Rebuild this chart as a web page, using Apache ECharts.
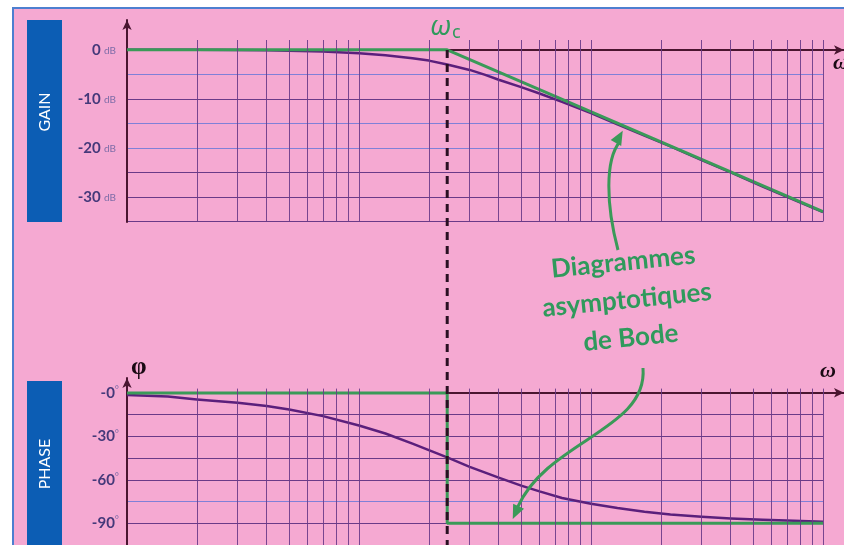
<!DOCTYPE html>
<html>
<head>
<meta charset="utf-8">
<script src="https://cdn.jsdelivr.net/npm/echarts@6/dist/echarts.min.js"></script>
<style>
  html, body { margin: 0; padding: 0; background: #ffffff; }
  #sheet { position: absolute; left: 12px; top: 7px; width: 832px; height: 538px;
           background: #f5a9d2; border-left: 2px solid #4d7fd0; border-top: 2px solid #4d7fd0; box-sizing: border-box; }
  #chart { position: absolute; left: 0; top: 0; width: 844px; height: 545px; }
</style>
</head>
<body>
<div id="sheet"></div>
<div id="chart"></div>
<script>
// Pulsation axis (log, 3 decades) and grid positions
const omegaRange = [1, 1000];
const omegaGrid = [2, 3, 4, 5, 6, 7, 8, 9, 10, 20, 30, 40, 50, 60, 70, 80, 90, 100,
                   200, 300, 400, 500, 600, 700, 800, 900, 1000];
const omegaC = 24;

// Sample pulsations for the real responses
const omega = [1, 1.5, 2, 3, 4, 5, 7, 10, 13, 17, 20, 24, 30, 35, 40, 50, 60, 75,
               100, 130, 170, 220, 300, 400, 550, 750, 1000];

// Gain (dB)
const gainTicks = [0, -10, -20, -30];
const gainReal  = [0, 0, 0, -0.05, -0.1, -0.2, -0.35, -0.7, -1.1, -1.7, -2.2, -3.0, -4.1, -5.1, -6.1,
                   -7.6, -8.9, -10.6, -12.9, -15.2, -17.5, -19.7, -22.5, -25.0, -27.9, -30.6, -33.1];
const gainAsymOmega = [1, 24, 1000];
const gainAsym      = [0, 0, -33];

// Phase (degrees)
const phaseTicks = [0, -30, -60, -90];
const phaseReal  = [-1.4, -2.5, -4.5, -6.8, -9, -11.5, -16, -22.5, -28, -35, -39.5, -44.5, -51, -55, -58.5,
                    -64, -68, -72.5, -76.5, -79.5, -82, -84, -85.5, -86.7, -87.6, -88.3, -89];
const phaseAsymOmega = [1, 24, 24, 1000];
const phaseAsym      = [0, 0, -90, -90];

const GREEN = '#3a9a58';
const TEXT_GREEN = '#2f9a5c';
const PURPLE = '#5b1f7c';
const AXIS = '#4a1530';
const GRID_DARK = '#6a3a88';
const GRID_BLUE = '#7f80d8';

const zip = (xs, ys) => xs.map((x, i) => [x, ys[i]]);

const chart = echarts.init(document.getElementById('chart'), null, { renderer: 'canvas' });

function logAxis(gridIndex) {
  return { type: 'log', logBase: 10, gridIndex, min: omegaRange[0], max: omegaRange[1],
           axisLine: { show: false }, axisTick: { show: false }, axisLabel: { show: false },
           splitLine: { show: false } };
}
function arrowAxisX(gridIndex) {
  return { type: 'value', gridIndex, min: 0, max: 1,
           axisLine: { show: true, onZero: true, symbol: ['none', 'arrow'], symbolSize: [7, 10],
                       lineStyle: { color: AXIS, width: 2 } },
           axisTick: { show: false }, axisLabel: { show: false }, splitLine: { show: false } };
}
function arrowAxisY(gridIndex, min, max) {
  return { type: 'value', gridIndex, min, max,
           axisLine: { show: true, onZero: false, symbol: ['none', 'arrow'], symbolSize: [7, 10],
                       lineStyle: { color: AXIS, width: 2 } },
           axisTick: { show: false }, axisLabel: { show: false }, splitLine: { show: false } };
}
function vGridLines(xAxisIndex, yAxisIndex) {
  return { type: 'line', xAxisIndex, yAxisIndex, data: [], z: 1, silent: true,
           markLine: { silent: true, symbol: 'none', label: { show: false },
                       lineStyle: { color: GRID_DARK, width: 1, type: 'solid', opacity: 0.9 },
                       emphasis: { disabled: true },
                       data: omegaGrid.map(v => ({ xAxis: v })) } };
}

const labelRich = {
  n: { fontFamily: 'Lato', fontSize: 15, fontWeight: 'bold', color: '#45397a' },
  u: { fontFamily: 'Lato', fontSize: 10, color: '#7d6ca8', padding: [2, 0, 0, 0] },
  d: { fontFamily: 'Lato', fontSize: 10, color: '#7d6ca8', padding: [0, 0, 6, 0] }
};

const option = {
  backgroundColor: 'transparent',
  animation: false,
  grid: [
    { left: 127, right: 21, top: 40, bottom: 323.5 },   // 0: gain plot
    { left: 127, right: 0, top: 20, bottom: 323 },       // 1: gain axes with arrows
    { left: 127, right: 21, top: 388.6, bottom: -2 },   // 2: phase plot
    { left: 127, right: 0, top: 378, bottom: -2 },       // 3: phase axes with arrows
    { left: 127, right: 21, top: 50, bottom: 0 }         // 4: cut-off marker
  ],
  xAxis: [ logAxis(0), arrowAxisX(1), logAxis(2), arrowAxisX(3), logAxis(4) ],
  yAxis: [
    { type: 'value', gridIndex: 0, min: -35, max: 2, interval: 5,
      axisLine: { show: false }, axisTick: { show: false },
      splitLine: { show: true, showMaxLine: false,
                   lineStyle: { width: 1, color: [GRID_DARK, GRID_DARK, GRID_DARK, GRID_BLUE, GRID_BLUE, GRID_DARK, GRID_BLUE, GRID_DARK, GRID_DARK] } },
      axisLabel: { margin: 11, align: 'right',
        formatter: v => gainTicks.includes(v) ? '{n|' + v + '} {u|dB}' : '',
        rich: labelRich } },
    arrowAxisY(1, -35, 6.1),
    { type: 'value', gridIndex: 2, min: -105, max: 3, interval: 15,
      axisLine: { show: false }, axisTick: { show: false },
      splitLine: { show: true, showMaxLine: false,
                   lineStyle: { width: 1, color: [GRID_DARK, GRID_DARK, GRID_BLUE, GRID_DARK, GRID_DARK, GRID_DARK, GRID_DARK, GRID_DARK, GRID_DARK] } },
      axisLabel: { margin: 8, align: 'right',
        formatter: v => phaseTicks.includes(v) ? '{n|-' + Math.abs(v) + '}{d|°}' : '',
        rich: labelRich } },
    arrowAxisY(3, -105, 10.2),
    { type: 'value', gridIndex: 4, min: 0, max: 1, show: false }
  ],
  series: [
    vGridLines(0, 0),
    vGridLines(2, 2),
    { type: 'line', xAxisIndex: 0, yAxisIndex: 0, data: zip(omega, gainReal),
      showSymbol: false, z: 3, lineStyle: { color: PURPLE, width: 2.5, join: 'round' } },
    { type: 'line', xAxisIndex: 0, yAxisIndex: 0, data: zip(gainAsymOmega, gainAsym),
      showSymbol: false, z: 4, lineStyle: { color: GREEN, width: 3 } },
    { type: 'line', xAxisIndex: 2, yAxisIndex: 2, data: zip(omega, phaseReal),
      showSymbol: false, z: 3, lineStyle: { color: PURPLE, width: 2.5, join: 'round' } },
    { type: 'line', xAxisIndex: 2, yAxisIndex: 2, data: zip(phaseAsymOmega, phaseAsym),
      showSymbol: false, z: 4, lineStyle: { color: GREEN, width: 3 } },
    { type: 'line', xAxisIndex: 4, yAxisIndex: 4, data: [[omegaC, 1], [omegaC, 0]],
      showSymbol: false, z: 5, lineStyle: { color: '#2a0f22', width: 3, type: [8, 6] } }
  ]
};
chart.setOption(option);

// Annotations: labels, side tabs and callout arrows
const tip1 = chart.convertToPixel({ gridIndex: 0 }, [137, -16.5]);
const tip2 = chart.convertToPixel({ gridIndex: 2 }, [46, -87]);

function arrowHead(tip, from, len, half) {
  const dx = tip[0] - from[0], dy = tip[1] - from[1];
  const d = Math.hypot(dx, dy), ux = dx / d, uy = dy / d;
  const bx = tip[0] - len * ux, by = tip[1] - len * uy;
  return [[tip[0], tip[1]], [bx - half * uy, by + half * ux], [bx + half * uy, by - half * ux]];
}

chart.setOption({
  graphic: [
    { type: 'rect', shape: { x: 27, y: 20, width: 35, height: 202 }, style: { fill: '#0c5db4' }, z: 10 },
    { type: 'text', x: 44.5, y: 112, rotation: Math.PI / 2, z: 11,
      style: { text: 'GAIN', fill: '#ffffff', font: '16px Lato', align: 'center', verticalAlign: 'middle' } },
    { type: 'rect', shape: { x: 27, y: 381, width: 35, height: 170 }, style: { fill: '#0c5db4' }, z: 10 },
    { type: 'text', x: 44.5, y: 464, rotation: Math.PI / 2, z: 11,
      style: { text: 'PHASE', fill: '#ffffff', font: '16px Lato', align: 'center', verticalAlign: 'middle' } },

    { type: 'text', x: 430, y: 12, z: 11,
      style: { rich: { w: { font: 'italic 27px "Noto Sans"', fill: TEXT_GREEN },
                       c: { font: '18px "Noto Sans"', fill: TEXT_GREEN, padding: [12, 0, 0, 1] } },
               text: '{w|ω}{c|c}' } },
    { type: 'text', x: 833, y: 52, z: 11,
      style: { text: 'ω', font: 'italic bold 22px "Liberation Serif"', fill: '#1a0a14' } },
    { type: 'text', x: 820, y: 360, z: 11,
      style: { text: 'ω', font: 'italic bold 22px "Liberation Serif"', fill: '#1a0a14' } },
    { type: 'text', x: 131, y: 355, z: 11,
      style: { text: 'φ', font: 'bold 25px "Liberation Serif"', fill: '#1a0a14' } },

    { type: 'text', x: 627, y: 300, rotation: 0.1, z: 11,
      style: { text: 'Diagrammes\nasymptotiques\nde Bode', font: 'bold 26px Lato', fill: TEXT_GREEN,
               align: 'center', verticalAlign: 'middle', lineHeight: 38 } },

    { type: 'bezierCurve', z: 11,
      shape: { x1: 618, y1: 250, cpx1: 606, cpy1: 205, cpx2: 605, cpy2: 160, x2: tip1[0] - 3, y2: tip1[1] + 11 },
      style: { stroke: GREEN, lineWidth: 3, fill: null } },
    { type: 'polygon', z: 11, shape: { points: arrowHead(tip1, [611, 152], 14, 6) }, style: { fill: GREEN } },
    { type: 'bezierCurve', z: 11,
      shape: { x1: 643, y1: 368, cpx1: 648, cpy1: 430, cpx2: 548, cpy2: 440, x2: tip2[0] + 5, y2: tip2[1] - 12 },
      style: { stroke: GREEN, lineWidth: 3, fill: null } },
    { type: 'polygon', z: 11, shape: { points: arrowHead(tip2, [526, 490], 14, 6) }, style: { fill: GREEN } }
  ]
});
</script>
</body>
</html>
